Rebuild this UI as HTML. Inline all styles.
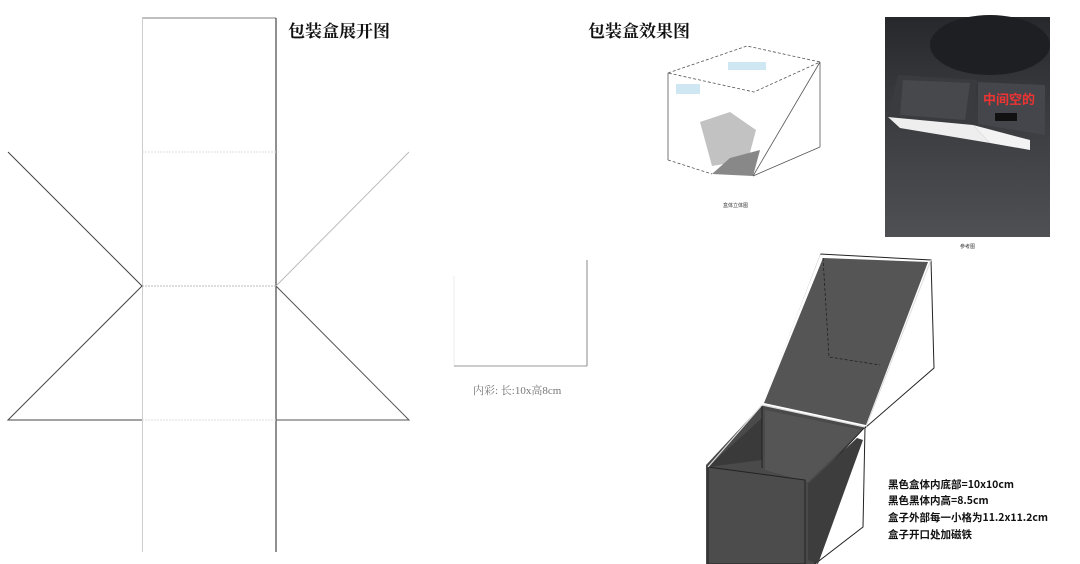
<!DOCTYPE html>
<html><head><meta charset="utf-8"><style>
html,body{margin:0;padding:0;background:#fff;width:1080px;height:564px;overflow:hidden}
svg{display:block}
</style></head><body>
<svg width="1080" height="564" viewBox="0 0 1080 564" xmlns="http://www.w3.org/2000/svg">
<defs>
<linearGradient id="ph" x1="0" y1="0" x2="0" y2="1">
<stop offset="0" stop-color="#26282c"/><stop offset="0.3" stop-color="#34363a"/><stop offset="1" stop-color="#4e5054"/>
</linearGradient>
</defs>
<!-- net -->
<line x1="142" y1="18" x2="276" y2="18" stroke="#999" stroke-width="1.2"/>
<line x1="142.5" y1="18" x2="142.5" y2="552" stroke="#ccc" stroke-width="1"/>
<line x1="276" y1="18" x2="276" y2="552" stroke="#222" stroke-width="1"/>
<line x1="142" y1="152" x2="276" y2="152" stroke="#ddd" stroke-dasharray="2,1"/>
<line x1="142" y1="286" x2="276" y2="286" stroke="#bbb" stroke-dasharray="2,1"/>
<line x1="142" y1="420" x2="276" y2="420" stroke="#ddd" stroke-dasharray="2,1"/>
<polyline points="8,152 142,286 8,420 142,420" fill="none" stroke="#444" stroke-width="1"/>
<polyline points="276,286 409,420 276,420" fill="none" stroke="#555" stroke-width="1"/>
<line x1="276" y1="286" x2="409" y2="152" stroke="#bbb"/>
<text x="288" y="37" font-family="Liberation Serif,'Noto Serif CJK SC',serif" font-size="17" font-weight="bold" fill="#111">包装盒展开图</text>
<!-- small square -->
<line x1="454" y1="276" x2="454" y2="366" stroke="#eee"/>
<line x1="454" y1="366" x2="587" y2="366" stroke="#999"/>
<line x1="587" y1="260" x2="587" y2="366" stroke="#888"/>
<text x="473" y="394" font-family="Liberation Serif,'Noto Serif CJK SC',serif" font-size="11" fill="#777">内彩:  长:10x高8cm</text>
<text x="588" y="37" font-family="Liberation Serif,'Noto Serif CJK SC',serif" font-size="17" font-weight="bold" fill="#111">包装盒效果图</text>
<!-- cube sketch -->
<g stroke="#555" stroke-width="0.8" fill="none">
<polyline points="668,73 747,46 820,62 754,92 668,73" stroke-dasharray="3,2"/>
<line x1="668" y1="73" x2="668" y2="160"/>
<line x1="820" y1="62" x2="820" y2="147"/>
<line x1="820" y1="62" x2="753" y2="176"/>
<line x1="668" y1="160" x2="712" y2="174" stroke-dasharray="3,2"/>
<line x1="753" y1="176" x2="820" y2="147"/>
</g>
<polygon points="700,122 730,112 756,130 748,160 712,166" fill="#999" opacity="0.6"/>
<polygon points="712,174 753,176 760,150 730,158" fill="#888"/>
<rect x="728" y="62" width="38" height="8" fill="#bde" opacity="0.7"/>
<rect x="676" y="84" width="24" height="10" fill="#bde" opacity="0.7"/>
<text x="723" y="207" font-family="Liberation Sans,'Noto Sans CJK SC',sans-serif" font-size="5" fill="#333">盒体立体图</text>
<!-- photo -->
<rect x="885" y="17" width="165" height="220" fill="url(#ph)"/>
<ellipse cx="990" cy="45" rx="60" ry="30" fill="#1e1f22"/>
<polygon points="898,75 977,80 973,125 888,117" fill="#3a3b3e"/>
<polygon points="903,80 970,83 965,120 900,115" fill="#47484c"/>
<polygon points="888,117 973,125 990,143 900,128" fill="#eee"/>
<polygon points="973,125 1030,140 1030,150 990,143" fill="#f3f3f3"/>
<polygon points="978,82 1045,85 1045,135 978,124" fill="#45464b"/>
<rect x="995" y="113" width="22" height="8" fill="#111"/>
<text x="983" y="104" font-family="Liberation Sans,'Noto Sans CJK SC',sans-serif" font-size="13" font-weight="bold" fill="#e33">中间空的</text>
<text x="960" y="248" font-family="Liberation Sans,'Noto Sans CJK SC',sans-serif" font-size="5" fill="#333">参考图</text>
<!-- big box -->
<polygon points="820,254 931,260 934,368 865,428 762,405" fill="#fff" stroke="#222" stroke-width="1"/>
<polygon points="823,258 928,262 866,425 764,403" fill="#555"/>
<polyline points="823,258 829,357 880,365" fill="none" stroke="#222" stroke-dasharray="3,2" stroke-width="0.8"/>
<polygon points="762,405 865,427 865,437 810,486 815,564 706,564 706,465" fill="#4a4a4a"/>
<polygon points="765,410 862,430 808,482 765,470" fill="#555"/>
<polygon points="865,427 863,527 815,564 810,486" fill="#fff" stroke="#222"/>
<polygon points="857,438 863,440 818,564 808,560 808,484" fill="#3d3d3d"/>
<polygon points="708,467 805,480 805,564 708,564" fill="#4c4c4c" stroke="#222"/>
<polygon points="708,467 762,418 762,460" fill="#3a3a3a"/>
<line x1="762" y1="405" x2="762" y2="468" stroke="#222"/>
<line x1="708" y1="467" x2="762" y2="405" stroke="#ddd" stroke-width="1.2"/>
<line x1="762" y1="405" x2="865" y2="427" stroke="#ddd" stroke-width="1.2"/>
<line x1="820" y1="253" x2="762" y2="405" stroke="#fff" stroke-width="1.5"/>
<line x1="931" y1="260" x2="866" y2="427" stroke="#ddd" stroke-width="1"/>
<g font-family="'Noto Sans CJK SC',sans-serif" font-size="10.5" font-weight="bold" fill="#111">
<text x="888" y="488">黑色盒体内底部=10x10cm</text>
<text x="888" y="504">黑色黑体内高=8.5cm</text>
<text x="888" y="521">盒子外部每一小格为11.2x11.2cm</text>
<text x="888" y="538">盒子开口处加磁铁</text>
</g>
</svg>
</body></html>
